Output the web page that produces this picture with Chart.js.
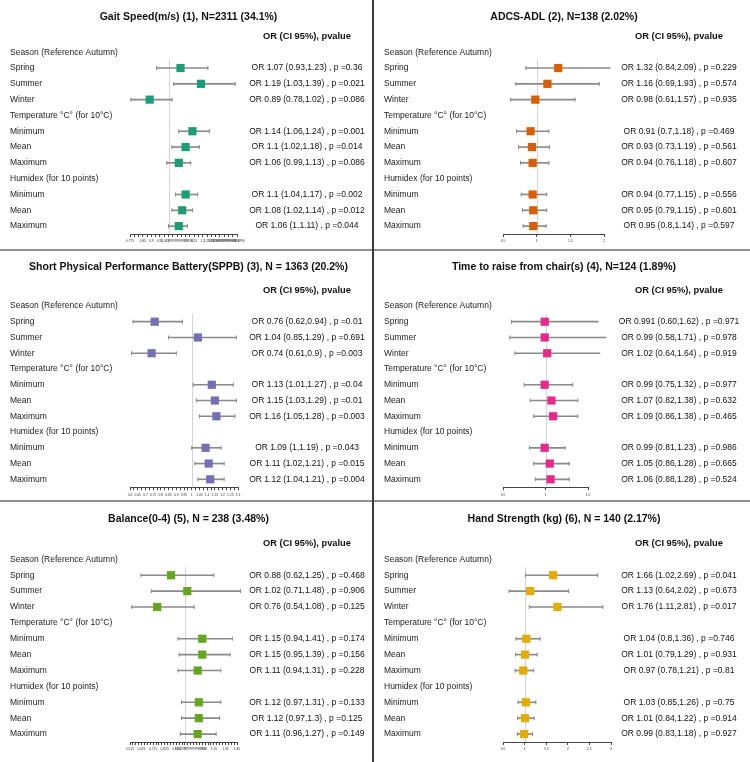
<!DOCTYPE html>
<html><head><meta charset="utf-8">
<script src="https://cdn.jsdelivr.net/npm/chart.js@4/dist/chart.umd.min.js"></script>
<style>
html,body{margin:0;padding:0;background:#fff;}
#page{position:relative;width:750px;height:762px;overflow:hidden;background:#fff;}
.panel{position:absolute;}
.hline{position:absolute;left:0;width:750px;height:2px;background:#909090;}
.vline{position:absolute;top:0;width:2px;height:762px;background:#3a3a3a;}
</style></head><body>
<div id="page"></div>
<script>
// ---------- shared categories ----------
const rowLabels = ['', 'Season (Reference Autumn)', 'Spring', 'Summer', 'Winter',
  'Temperature °C° (for 10°C)', 'Minimum', 'Mean', 'Maximum',
  'Humidex (for 10 points)', 'Minimum', 'Mean', 'Maximum'];
const headerText = 'OR (CI 95%), pvalue';
const dataRows = [2, 3, 4, 6, 7, 8, 10, 11, 12];
const refValue = 1;

// ---------- panel 1 ----------
const gaitTitle = 'Gait Speed(m/s) (1), N=2311 (34.1%)';
const gaitOR   = ['1.07','1.19','0.89','1.14','1.1','1.06','1.1','1.08','1.06'];
const gaitLow  = ['0.93','1.03','0.78','1.06','1.02','0.99','1.04','1.02','1'];
const gaitHigh = ['1.23','1.39','1.02','1.24','1.18','1.13','1.17','1.14','1.11'];
const gaitP    = ['0.36','0.021','0.086','0.001','0.014','0.086','0.002','0.012','0.044'];
const gaitAxis = [0.775, 1.4, 0.025];
const gaitTickLabels = [0.775,0.85,0.9,0.95,1,1.05,1.1,1.15,1.2,1.25,1.3,1.35,1.4];

// ---------- panel 2 ----------
const adlTitle = 'ADCS-ADL (2), N=138 (2.02%)';
const adlOR   = ['1.32','1.16','0.98','0.91','0.93','0.94','0.94','0.95','0.95'];
const adlLow  = ['0.84','0.69','0.61','0.7','0.73','0.76','0.77','0.79','0.8'];
const adlHigh = ['2.09','1.93','1.57','1.18','1.19','1.18','1.15','1.15','1.14'];
const adlP    = ['0.229','0.574','0.935','0.469','0.561','0.607','0.556','0.601','0.597'];
const adlAxis = [0.5, 2, 0.5];
const adlTickLabels = [0.5,1,1.5,2];

// ---------- panel 3 ----------
const sppbTitle = 'Short Physical Performance Battery(SPPB) (3), N = 1363 (20.2%)';
const sppbOR   = ['0.76','1.04','0.74','1.13','1.15','1.16','1.09','1.11','1.12'];
const sppbLow  = ['0.62','0.85','0.61','1.01','1.03','1.05','1','1.02','1.04'];
const sppbHigh = ['0.94','1.29','0.9','1.27','1.29','1.28','1.19','1.21','1.21'];
const sppbP    = ['0.01','0.691','0.003','0.04','0.01','0.003','0.043','0.015','0.004'];
const sppbAxis = [0.6, 1.3, 0.025];
const sppbTickLabels = [0.6,0.65,0.7,0.75,0.8,0.85,0.9,0.95,1,1.05,1.1,1.15,1.2,1.25,1.3];

// ---------- panel 4 ----------
const chairTitle = 'Time to raise from chair(s) (4), N=124 (1.89%)';
const chairOR   = ['0.991','0.99','1.02','0.99','1.07','1.09','0.99','1.05','1.06'];
const chairLow  = ['0.60','0.58','0.64','0.75','0.82','0.86','0.81','0.86','0.88'];
const chairHigh = ['1.62','1.71','1.64','1.32','1.38','1.38','1.23','1.28','1.28'];
const chairP    = ['0.971','0.978','0.919','0.977','0.632','0.465','0.986','0.665','0.524'];
const chairAxis = [0.5, 1.5, 0.5];
const chairTickLabels = [0.5,1,1.5];

// ---------- panel 5 ----------
const balTitle = 'Balance(0-4) (5), N = 238 (3.48%)';
const balOR   = ['0.88','1.02','0.76','1.15','1.15','1.11','1.12','1.12','1.11'];
const balLow  = ['0.62','0.71','0.54','0.94','0.95','0.94','0.97','0.97','0.96'];
const balHigh = ['1.25','1.48','1.08','1.41','1.39','1.31','1.31','1.3','1.27'];
const balP    = ['0.468','0.906','0.125','0.174','0.156','0.228','0.133','0.125','0.149'];
const balAxis = [0.525, 1.45, 0.025];
const balTickLabels = [0.525,0.625,0.725,0.825,0.925,1,1.05,1.15,1.25,1.35,1.45];

// ---------- panel 6 ----------
const handTitle = 'Hand Strength (kg) (6), N = 140 (2.17%)';
const handOR   = ['1.66','1.13','1.76','1.04','1.01','0.97','1.03','1.01','0.99'];
const handLow  = ['1.02','0.64','1.11','0.8','0.79','0.78','0.85','0.84','0.83'];
const handHigh = ['2.69','2.02','2.81','1.36','1.29','1.21','1.26','1.22','1.18'];
const handP    = ['0.041','0.673','0.017','0.746','0.931','0.81','0.75','0.914','0.927'];
const handAxis = [0.5, 3, 0.5];
const handTickLabels = [0.5,1,1.5,2,2.5,3];

// ---------- layout (positions / styles only) ----------
const FAMILY = "'Liberation Sans', Arial, sans-serif";
const rowsGeo = [
  {top: 0,   h: 249, titleY: 17, chartTop: 28.5, chartBottom: 234},
  {top: 251, h: 249, titleY: 16, chartTop: 31.3, chartBottom: 236.2},
  {top: 502, h: 260, titleY: 17, chartTop: 33.5, chartBottom: 240}
];
const colsGeo = [
  {left: 0,   w: 372, padR: 5, axisLeft: 130, textCenter: 307},
  {left: 374, w: 376, padR: 6, axisLeft: 129, textCenter: 305}
];
const panels = [
  {title: gaitTitle,  or: gaitOR,  lo: gaitLow,  hi: gaitHigh,  p: gaitP,  axis: gaitAxis,  tl: gaitTickLabels,  color: '#1b9e77', row: 0, col: 0, axisRight: 237},
  {title: adlTitle,   or: adlOR,   lo: adlLow,   hi: adlHigh,   p: adlP,   axis: adlAxis,   tl: adlTickLabels,   color: '#d95f02', row: 0, col: 1, axisRight: 230},
  {title: sppbTitle,  or: sppbOR,  lo: sppbLow,  hi: sppbHigh,  p: sppbP,  axis: sppbAxis,  tl: sppbTickLabels,  color: '#7570b3', row: 1, col: 0, axisRight: 238},
  {title: chairTitle, or: chairOR, lo: chairLow, hi: chairHigh, p: chairP, axis: chairAxis, tl: chairTickLabels, color: '#e7298a', row: 1, col: 1, axisRight: 214},
  {title: balTitle,   or: balOR,   lo: balLow,   hi: balHigh,   p: balP,   axis: balAxis,   tl: balTickLabels,   color: '#66a61e', row: 2, col: 0, axisRight: 237},
  {title: handTitle,  or: handOR,  lo: handLow,  hi: handHigh,  p: handP,  axis: handAxis,  tl: handTickLabels,  color: '#e6ab02', row: 2, col: 1, axisRight: 237}
];

const refLinePlugin = {
  id: 'refLine',
  beforeDatasetsDraw(chart) {
    const {ctx, chartArea, scales: {x, y}} = chart;
    const px = Math.round(x.getPixelForValue(refValue)) + 0.5;
    const top = y.getPixelForValue(1.5);
    ctx.save();
    ctx.strokeStyle = '#d4d4d4';
    ctx.lineWidth = 1;
    ctx.beginPath();
    ctx.moveTo(px, top);
    ctx.lineTo(px, chartArea.bottom);
    ctx.stroke();
    ctx.restore();
  }
};

const page = document.getElementById('page');
const mctx = document.createElement('canvas').getContext('2d');
const NORMAL_SIZE = 8.5, BOLD_SIZE = 9.3;

panels.forEach(pn => {
  const rg = rowsGeo[pn.row], cg = colsGeo[pn.col];
  const div = document.createElement('div');
  div.className = 'panel';
  div.style.left = cg.left + 'px'; div.style.top = rg.top + 'px';
  div.style.width = cg.w + 'px'; div.style.height = rg.h + 'px';
  const cv = document.createElement('canvas');
  cv.width = cg.w; cv.height = rg.h;
  cv.style.width = cg.w + 'px'; cv.style.height = rg.h + 'px';
  div.appendChild(cv); page.appendChild(div);

  const n = rowLabels.length;
  const orArr = Array(n).fill(null), ciArr = Array(n).fill(null);
  const loArr = Array(n).fill(null), hiArr = Array(n).fill(null);
  const rightLabels = Array(n).fill('');
  rightLabels[0] = headerText;
  dataRows.forEach((r, i) => {
    orArr[r] = parseFloat(pn.or[i]);
    loArr[r] = parseFloat(pn.lo[i]);
    hiArr[r] = parseFloat(pn.hi[i]);
    ciArr[r] = [loArr[r], hiArr[r]];
    rightLabels[r] = 'OR ' + pn.or[i] + ' (' + pn.lo[i] + ',' + pn.hi[i] + ') , p =' + pn.p[i];
  });
  let widest = 0;
  rightLabels.forEach((t, i) => {
    mctx.font = (i === 0 ? 'bold ' + BOLD_SIZE : NORMAL_SIZE) + 'px ' + FAMILY;
    widest = Math.max(widest, mctx.measureText(t).width);
  });
  const rightPad = Math.max(0, cg.textCenter - pn.axisRight - widest / 2);
  const tickSet = pn.tl;
  const noPad = s => { s.paddingTop = 0; s.paddingBottom = 0; };

  new Chart(cv, {
    type: 'bar',
    data: {
      labels: rowLabels,
      datasets: [
        {type: 'line', data: orArr, showLine: false, pointStyle: 'rect', pointRadius: 5.8,
         pointBorderWidth: 0, pointBackgroundColor: pn.color, pointBorderColor: pn.color,
         backgroundColor: pn.color, borderColor: pn.color, clip: false},
        {type: 'line', data: loArr, showLine: false, pointStyle: 'line', pointRotation: 90, pointRadius: 2,
         pointBorderWidth: 1, pointBorderColor: '#8a8a8a', borderColor: '#8a8a8a', clip: false},
        {type: 'line', data: hiArr, showLine: false, pointStyle: 'line', pointRotation: 90, pointRadius: 2,
         pointBorderWidth: 1, pointBorderColor: '#8a8a8a', borderColor: '#8a8a8a', clip: false},
        {type: 'bar', data: ciArr, barThickness: 1, backgroundColor: '#8a8a8a', borderWidth: 0, clip: false}
      ]
    },
    options: {
      indexAxis: 'y',
      responsive: false,
      animation: false,
      events: [],
      devicePixelRatio: 1,
      layout: {padding: {left: 10, right: cg.padR, top: 0, bottom: 0}},
      plugins: {
        legend: {display: false},
        tooltip: {enabled: false},
        title: {
          display: true, text: pn.title, color: '#111',
          font: {family: FAMILY, size: 10.5, weight: 'bold', lineHeight: 1.2},
          padding: {top: rg.titleY - 6.3, bottom: rg.chartTop - rg.titleY - 6.3}
        }
      },
      scales: {
        x: {
          type: 'linear', position: 'bottom',
          min: pn.axis[0], max: pn.axis[1],
          border: {display: true, color: '#444', width: 1},
          grid: {display: true, drawOnChartArea: false, drawTicks: true, tickLength: 3, color: '#444'},
          ticks: {
            stepSize: pn.axis[2], autoSkip: false, maxRotation: 0, minRotation: 0, padding: 2.5,
            font: {family: FAMILY, size: 3.3}, color: '#333',
            callback: v => tickSet.some(t => Math.abs(t - v) < 1e-9) ? String(v) : ''
          },
          afterFit: s => { s.height = rg.h - rg.chartBottom; s.paddingLeft = 0; s.paddingRight = 0; }
        },
        y: {
          type: 'category', position: 'left', offset: true,
          border: {display: false},
          grid: {display: false, drawTicks: false},
          ticks: {autoSkip: false, crossAlign: 'far', padding: 0,
                  font: {family: FAMILY, size: NORMAL_SIZE}, color: '#222'},
          afterFit: s => { s.width = cg.axisLeft - 10; noPad(s); }
        },
        y2: {
          type: 'category', position: 'right', labels: rightLabels, offset: true, display: true,
          border: {display: false},
          grid: {display: false, drawTicks: false},
          ticks: {autoSkip: false, crossAlign: 'center', padding: rightPad, color: '#111',
                  font: ctx => ctx.index === 0 ? {family: FAMILY, size: BOLD_SIZE, weight: 'bold'}
                                               : {family: FAMILY, size: NORMAL_SIZE}},
          afterFit: s => { s.width = cg.w - cg.padR - pn.axisRight; noPad(s); }
        }
      }
    },
    plugins: [refLinePlugin]
  });
});

// separators
[249, 500].forEach(t => {
  const d = document.createElement('div'); d.className = 'hline'; d.style.top = t + 'px'; page.appendChild(d);
});
const vd = document.createElement('div'); vd.className = 'vline'; vd.style.left = '372px'; page.appendChild(vd);
</script>
</body></html>
